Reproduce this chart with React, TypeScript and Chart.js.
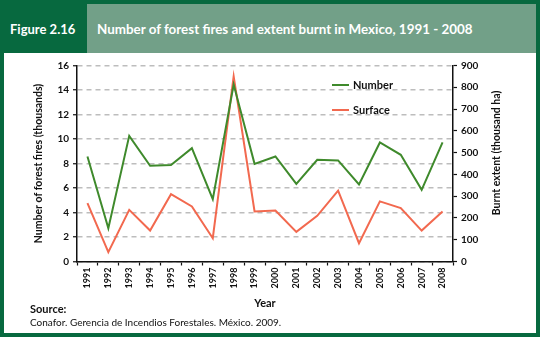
import React, { useEffect, useRef } from "react";
import { Chart, registerables } from "chart.js";

Chart.register(...registerables);

const years = ["1991","1992","1993","1994","1995","1996","1997","1998","1999","2000","2001","2002","2003","2004","2005","2006","2007","2008"];
const numberFires = [8.57, 2.72, 10.26, 7.81, 7.87, 9.25, 5.09, 14.44, 7.97, 8.57, 6.34, 8.3, 8.25, 6.29, 9.72, 8.71, 5.85, 9.72];
const surfaceBurnt = [268, 43, 237, 142, 309, 253, 107, 850, 230, 234, 136, 210, 325, 84, 276, 245, 142, 230];
const seriesNames = ["Number", "Surface"];

const GREEN = "#3f8a2c";
const RED = "#f2694f";
const FONT = "Lato, 'Open Sans', sans-serif";
const DARK = "#07693f";
const LIGHT = "#72a088";

const extrasPlugin = {
  id: "extras",
  afterDraw(chart: any) {
    const ctx = chart.ctx;
    const items = [
      { label: seriesNames[0], color: GREEN, y: 85 },
      { label: seriesNames[1], color: RED, y: 110 },
    ];
    ctx.save();
    items.forEach((it) => {
      ctx.strokeStyle = it.color;
      ctx.lineWidth = 2;
      ctx.beginPath();
      ctx.moveTo(332, it.y);
      ctx.lineTo(349, it.y);
      ctx.stroke();
      ctx.fillStyle = "#111";
      ctx.font = "bold 11px " + FONT;
      ctx.textBaseline = "middle";
      ctx.textAlign = "left";
      ctx.fillText(it.label, 353, it.y);
    });
    // right axis title, reading bottom-to-top
    ctx.translate(497, 153);
    ctx.rotate(-Math.PI / 2);
    ctx.font = "bold 10.5px " + FONT;
    ctx.textAlign = "center";
    ctx.textBaseline = "middle";
    ctx.fillText("Burnt extent (thousand ha)", 0, 0);
    ctx.restore();
  },
};

export default function App() {
  const ref = useRef<HTMLCanvasElement>(null);
  useEffect(() => {
    if (!ref.current) return;
    const chart = new Chart(ref.current, {
      type: "line",
      data: {
        labels: years,
        datasets: [
          { label: seriesNames[0], data: numberFires, borderColor: GREEN, backgroundColor: GREEN, borderWidth: 2, pointRadius: 0, yAxisID: "y", tension: 0 },
          { label: seriesNames[1], data: surfaceBurnt, borderColor: RED, backgroundColor: RED, borderWidth: 2, pointRadius: 0, yAxisID: "y1", tension: 0 },
        ],
      },
      options: {
        responsive: false,
        animation: false,
        layout: { padding: { top: 65.5, left: 0, right: 0, bottom: 0 } },
        plugins: { legend: { display: false }, title: { display: false }, tooltip: { enabled: false } },
        scales: {
          x: {
            offset: true,
            afterFit: (s: any) => { s.height = 75.5; },
            grid: { drawOnChartArea: false, offset: true, tickLength: 4, tickColor: "#111", tickWidth: 1.2 },
            border: { color: "#111", width: 1.5 },
            ticks: { maxRotation: 90, minRotation: 90, color: "#111", font: { family: FONT, size: 9, weight: "bold" }, padding: 2 },
            title: { display: true, text: "Year", color: "#111", font: { family: FONT, size: 11, weight: "bold" }, padding: { top: 0, bottom: 27 } },
          },
          y: {
            position: "left",
            min: 0,
            max: 16,
            afterFit: (s: any) => { s.width = 77; },
            ticks: { stepSize: 2, color: "#111", font: { family: FONT, size: 10, weight: "bold" }, padding: 4 },
            grid: { color: "#bdbdbd", lineWidth: 1.5, tickLength: 4, tickColor: "#111", tickWidth: 1.2, tickBorderDash: [] },
            border: { color: "#111", width: 1.5, dash: [5, 4] },
            title: { display: true, text: "Number of forest fires (thousands)", color: "#111", font: { family: FONT, size: 10.5, weight: "bold" }, padding: { top: 32, bottom: 0 } },
          },
          y1: {
            position: "right",
            min: 0,
            max: 900,
            afterFit: (s: any) => { s.width = 87; },
            ticks: { stepSize: 100, color: "#111", font: { family: FONT, size: 10, weight: "bold" }, padding: 4 },
            grid: { drawOnChartArea: false, tickLength: 4, tickColor: "#111", tickWidth: 1.2 },
            border: { color: "#111", width: 1.5 },
            title: { display: false },
          },
        },
      },
      plugins: [extrasPlugin],
    } as any);
    return () => chart.destroy();
  }, []);

  return (
    <div style={{ position: "absolute", left: 0, top: 0, width: 540, height: 337, background: DARK, overflow: "hidden", fontFamily: FONT }}>
      <div style={{ position: "absolute", left: 4, top: 53, width: 532, height: 280, background: "#fff" }} />
      <div style={{ position: "absolute", left: 87, top: 4, width: 449, height: 49, background: LIGHT }} />
      <div style={{ position: "absolute", left: 10, top: 20, color: "#fff", fontWeight: "bold", fontSize: 13, lineHeight: "18px", whiteSpace: "nowrap" }}>Figure 2.16</div>
      <div style={{ position: "absolute", left: 97, top: 20, color: "#fff", fontWeight: "bold", fontSize: 13.4, lineHeight: "18px", whiteSpace: "nowrap" }}>Number of forest fires and extent burnt in Mexico, 1991 - 2008</div>
      <canvas ref={ref} width={540} height={337} style={{ position: "absolute", left: 0, top: 0 }} />
      <div style={{ position: "absolute", left: 30, top: 302, color: "#111", fontWeight: "bold", fontSize: 11, lineHeight: "14px", whiteSpace: "nowrap" }}>Source:</div>
      <div style={{ position: "absolute", left: 30, top: 315, color: "#111", fontSize: 10, lineHeight: "14px", whiteSpace: "nowrap" }}>Conafor. Gerencia de Incendios Forestales. México. 2009.</div>
    </div>
  );
}
